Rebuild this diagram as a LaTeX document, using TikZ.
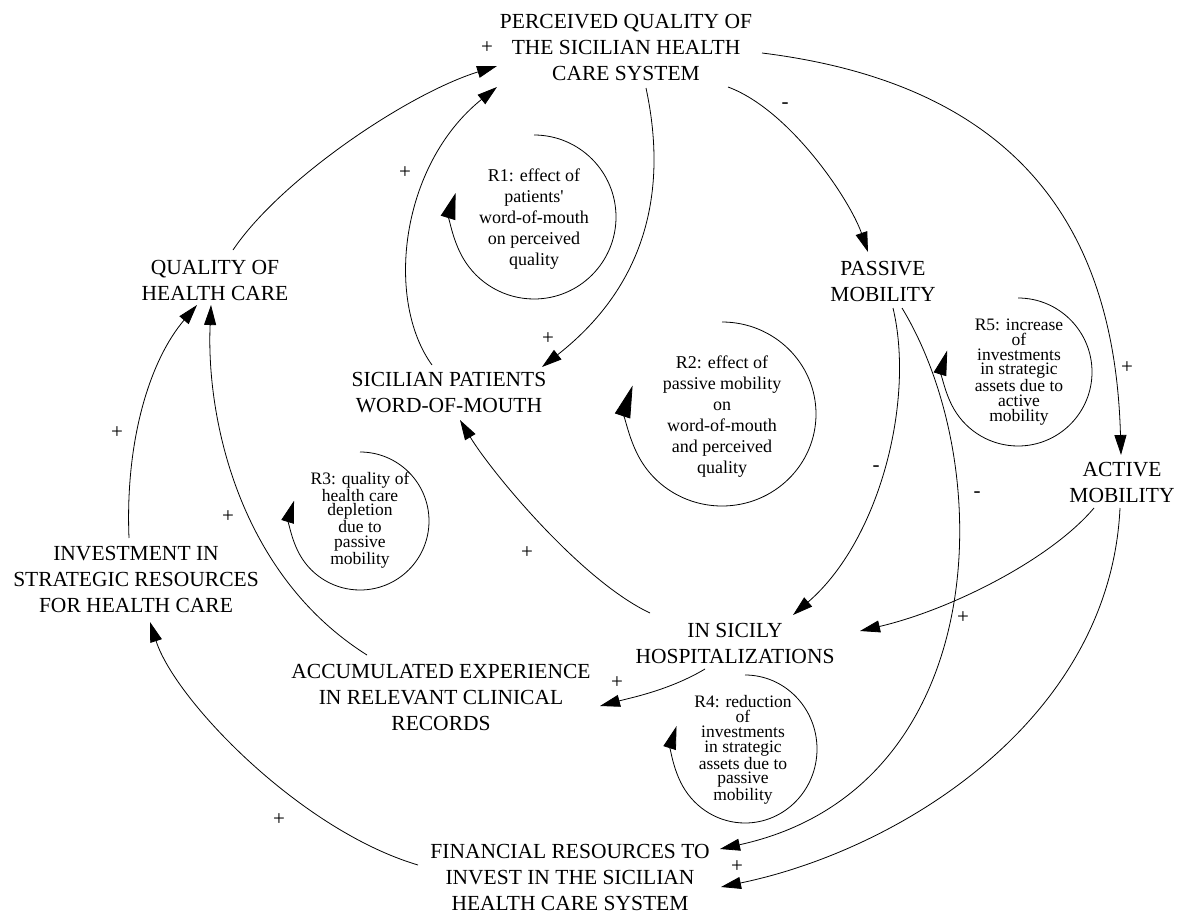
\documentclass[tikz,border=0pt]{standalone}
\usepackage{fontspec}
\setmainfont{Liberation Serif}
\newfontfamily\diagfont{Liberation Serif}
\usetikzlibrary{arrows.meta}
\begin{document}
\begin{tikzpicture}[x=1pt,y=-1pt,
  var/.style={align=center,font=\diagfont\fontsize{21.5}{26}\selectfont,inner sep=1pt},
  looptxt/.style={align=center,font=\diagfont\fontsize{18}{21}\selectfont,inner sep=0pt},
  tightloop/.style={align=center,font=\diagfont\fontsize{17.5}{14.8}\selectfont,inner sep=0pt},
  sgn/.style={font=\diagfont\fontsize{21}{21}\selectfont,inner sep=0pt},
  link/.style={line width=0.8pt,-{Triangle[length=20pt,width=12pt]}},
  looparc/.style={line width=0.8pt}]
\useasboundingbox (0,0) rectangle (1178,913);
\fill[white] (0,0) rectangle (1178,913);

% variables
\node[var] (pq)   at (626,47)  {PERCEIVED QUALITY OF\\THE SICILIAN HEALTH\\CARE SYSTEM};
\node[var] (qh)   at (215,280) {QUALITY OF\\HEALTH CARE};
\node[var] (wom)  at (449,393) {SICILIAN PATIENTS\\WORD-OF-MOUTH};
\node[var] (pm)   at (883,281) {PASSIVE\\MOBILITY};
\node[var] (am)   at (1122,482) {ACTIVE\\MOBILITY};
\node[var] (inv)  at (136,579) {INVESTMENT IN\\STRATEGIC RESOURCES\\FOR HEALTH CARE};
\node[var] (hosp) at (735,643) {IN SICILY\\HOSPITALIZATIONS};
\node[var] (acc)  at (441,697) {ACCUMULATED EXPERIENCE\\IN RELEVANT CLINICAL\\RECORDS};
\node[var] (fin)  at (570,877) {FINANCIAL RESOURCES TO\\INVEST IN THE SICILIAN\\HEALTH CARE SYSTEM};

% causal links
\draw[link] ([shift={(18,-30)}]qh.center) .. controls (280,180) and (407,94) .. ([shift={(-129,19)}]pq.center);
\draw[link] ([shift={(-17,-28)}]wom.center) .. controls (385,300) and (400,165) .. ([shift={(-129,40)}]pq.center);
\draw[link] ([shift={(20,41)}]pq.center) .. controls (670,200) and (640,290) .. ([shift={(93,-26)}]wom.center);
\draw[link] ([shift={(102,40)}]pq.center) .. controls (790,110) and (850,200) .. ([shift={(-15,-29)}]pm.center);
\draw[link] ([shift={(136,6)}]pq.center) .. controls (1020,85) and (1115,230) .. ([shift={(-1,-27)}]am.center);
\draw[link] ([shift={(-7,-41)}]inv.center) .. controls (125,440) and (150,360) .. ([shift={(-18,25)}]qh.center);
\draw[link] ([shift={(-74,-42)}]acc.center) .. controls (240,575) and (206,420) .. ([shift={(-4,25)}]qh.center);
\draw[link] ([shift={(10,27)}]pm.center) .. controls (915,400) and (880,540) .. ([shift={(58,-28)}]hosp.center);
\draw[link] ([shift={(19,27)}]pm.center) .. controls (1000,470) and (990,790) .. ([shift={(150,-28)}]fin.center);
\draw[link] ([shift={(-28,26)}]am.center) .. controls (1050,560) and (950,610) .. ([shift={(125,-12)}]hosp.center);
\draw[link] ([shift={(-2,26)}]am.center) .. controls (1110,720) and (900,850) .. ([shift={(151,10)}]fin.center);
\draw[link] ([shift={(-85,-30)}]hosp.center) .. controls (580,580) and (490,470) .. ([shift={(11,27)}]wom.center);
\draw[link] ([shift={(-30,26)}]hosp.center) .. controls (670,690) and (630,698) .. ([shift={(159,9)}]acc.center);
\draw[link] ([shift={(-152,-12)}]fin.center) .. controls (300,830) and (175,700) .. ([shift={(14,43)}]inv.center);

% polarity signs
\node[sgn] (s1)  at (487,48)  {+};
\node[sgn] (s2)  at (405,173) {+};
\node[sgn] (s3)  at (548,339) {+};
\node[sgn] (s4)  at (785,106) {-};
\node[sgn] (s5)  at (1127,368) {+};
\node[sgn] (s6)  at (117,433) {+};
\node[sgn] (s7)  at (228,517) {+};
\node[sgn] (s8)  at (876,469) {-};
\node[sgn] (s9)  at (977,495) {-};
\node[sgn] (s10) at (963,618) {+};
\node[sgn] (s11) at (527,553) {+};
\node[sgn] (s12) at (617,683) {+};
\node[sgn] (s13) at (279,820) {+};
\node[sgn] (s14) at (737,867) {+};

% loop labels
\node[looptxt] (r1) at (534,219) {R1: effect of\\patients\textquotesingle\\word-of-mouth\\on perceived\\quality};
\node[looptxt] (r2) at (722,417) {R2: effect of\\passive mobility\\on\\word-of-mouth\\and perceived\\quality};
\node[tightloop] (r3) at (360,520) {R3: quality of\\health care\\depletion\\due to\\passive\\mobility};
\node[tightloop] (r4) at (743,750) {R4: reduction\\of\\investments\\in strategic\\assets due to\\passive\\mobility};
\node[tightloop] (r5) at (1019,372) {R5: increase\\of\\investments\\in strategic\\assets due to\\active\\mobility};

% loop arcs
\coordinate (k1) at (534,217);
\coordinate (k2) at (722,414);
\coordinate (k3) at (360,521);
\coordinate (k4) at (745,749);
\coordinate (k5) at (1018,372);
\draw[looparc,-{Triangle[length=26pt,width=15pt]}] ([shift={(0,-82)}]k1) arc[start angle=270,end angle=557,radius=82];
\draw[looparc,-{Triangle[length=32pt,width=16pt]}] ([shift={(0,-92)}]k2) arc[start angle=270,end angle=558,x radius=94,y radius=92];
\draw[looparc,-{Triangle[length=22pt,width=13pt]}] ([shift={(0,-69)}]k3) arc[start angle=270,end angle=557,radius=69];
\draw[looparc,-{Triangle[length=23pt,width=13pt]}] ([shift={(0,-74)}]k4) arc[start angle=270,end angle=558,x radius=72,y radius=74];
\draw[looparc,-{Triangle[length=25pt,width=13pt]}] ([shift={(0,-74)}]k5) arc[start angle=270,end angle=557,radius=74];
\end{tikzpicture}
\end{document}
